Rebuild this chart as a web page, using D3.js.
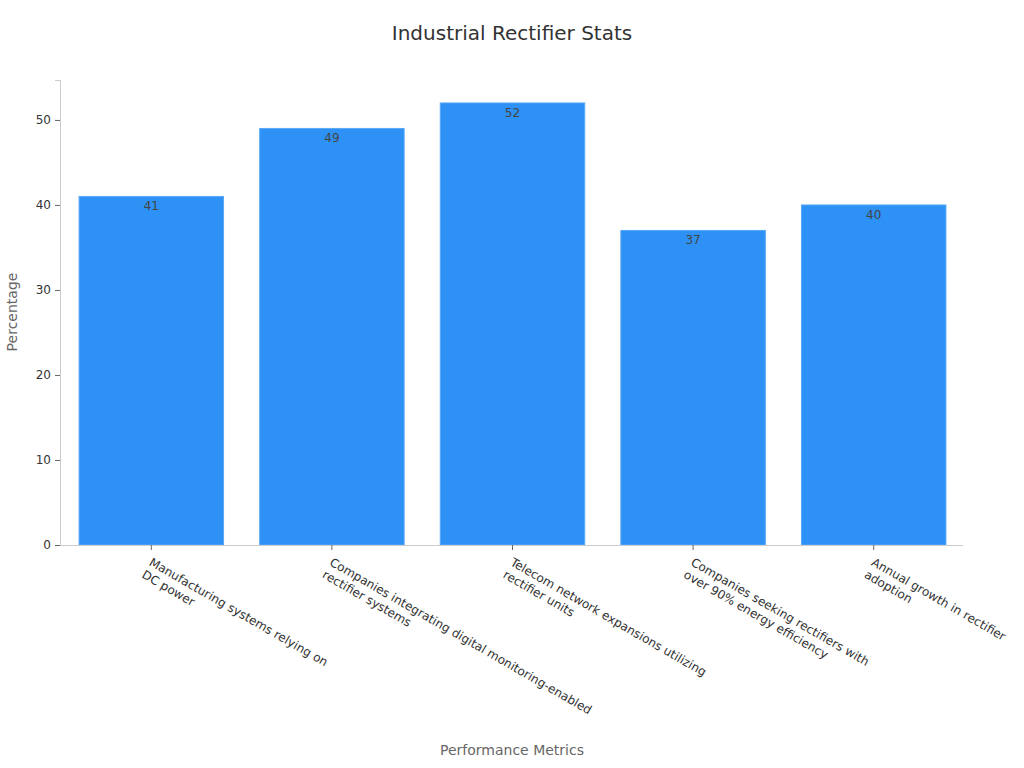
<!DOCTYPE html>
<html><head><meta charset="utf-8">
<script src="https://cdn.jsdelivr.net/npm/d3@7"></script>
<style>body{margin:0;background:#fff;font-family:"DejaVu Sans",sans-serif;}</style>
</head><body><svg id="c" width="1024" height="768"></svg>
<script>
const categories = [
  ["Manufacturing systems relying on","DC power"],
  ["Companies integrating digital monitoring-enabled","rectifier systems"],
  ["Telecom network expansions utilizing","rectifier units"],
  ["Companies seeking rectifiers with","over 90% energy efficiency"],
  ["Annual growth in rectifier","adoption"]
];
const values = [41, 49, 52, 37, 40];
const yTicks = [0, 10, 20, 30, 40, 50];

const svg = d3.select("#c");
const m = {l:60, r:61, t:80, b:223};
const W = 1024, H = 768;
const x = d3.scaleBand().domain(d3.range(values.length)).range([m.l+1, W-m.r+1]).paddingInner(0.2).paddingOuter(0.1);
const y = d3.scaleLinear().domain([0, 54.7]).range([H-m.b, m.t]);

svg.append("text").attr("x",512).attr("y",40).attr("text-anchor","middle")
  .attr("font-size",20).attr("fill","#333").text("Industrial Rectifier Stats");

svg.selectAll("rect.bar").data(values).join("rect").attr("class","bar")
  .attr("x",(d,i)=>x(i)).attr("width",x.bandwidth())
  .attr("y",d=>y(d)).attr("height",d=>y(0)-y(d))
  .attr("fill","#2e91f5").attr("stroke","#5aa9f7").attr("stroke-width",1);

svg.selectAll("text.val").data(values).join("text").attr("class","val")
  .attr("x",(d,i)=>x(i)+x.bandwidth()/2).attr("y",d=>y(d)+14)
  .attr("text-anchor","middle").attr("font-size",12).attr("fill","#444").text(d=>d);

const ya = svg.append("g").attr("transform",`translate(${m.l},0)`)
  .call(d3.axisLeft(y).tickValues(yTicks).tickSize(5).tickPadding(4));
ya.select(".domain").attr("stroke","#ccc");
ya.selectAll(".tick line").attr("stroke","#666");
ya.selectAll(".tick text").attr("font-size",12).attr("fill","#333").attr("font-family","DejaVu Sans");

const xa = svg.append("g").attr("transform",`translate(0,${H-m.b})`)
  .call(d3.axisBottom(x).tickSize(5).tickFormat(""));
xa.select(".domain").attr("stroke","#ccc").attr("d",`M${m.l},0.5H${W-m.r}`);
xa.selectAll(".tick line").attr("stroke","#666");
xa.selectAll(".tick").each(function(d){
  const t = d3.select(this).append("text")
    .attr("transform","translate(-1,16) rotate(30)")
    .attr("text-anchor","start").attr("font-size",12).attr("fill","#333")
    .attr("font-family","DejaVu Sans");
  categories[d].forEach((ln,k)=>{
    t.append("tspan").attr("x",0).attr("dy",k===0?"0.35em":"1.2em").text(ln);
  });
});

svg.append("text").attr("transform","translate(17,312) rotate(-90)")
  .attr("text-anchor","middle").attr("font-size",14).attr("fill","#666").text("Percentage");
svg.append("text").attr("x",512).attr("y",755).attr("text-anchor","middle")
  .attr("font-size",14).attr("fill","#666").text("Performance Metrics");
</script></body></html>
